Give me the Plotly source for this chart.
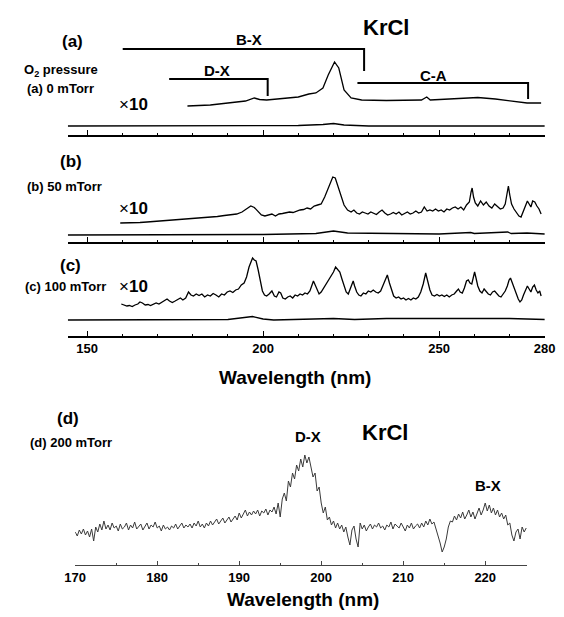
import plotly.graph_objects as go

# ---------------- data (intensity in arbitrary units) ----------------
# panel (a) 0 mTorr
a10_x = [178.5, 185, 190, 195, 197.5, 199, 201, 205, 210, 213, 215, 217, 218.5, 220.3, 221.5, 223, 225, 228, 235, 245, 246.5, 247.5, 255, 261, 266, 272, 275, 279]
a10_y = [29, 30, 32, 34, 37, 35.5, 35, 36, 38, 41, 42, 47, 60, 73, 67, 45, 37, 35, 34.5, 35, 38, 35, 36, 37.5, 36, 33, 32, 32]
a1_x = [144.5, 200, 210, 217, 220, 223, 230, 280]
a1_y = [9, 9, 9.5, 10.5, 11.5, 10, 9, 9]

# panel (b) 50 mTorr
b10_x = [159.4, 161, 163, 165, 167, 169, 171, 173, 175, 177, 179, 181, 183, 185, 187, 189, 191, 192.5, 194, 195.5, 196.5, 197.5, 198.5, 199.5,
         200.5, 201.5, 202.5, 203.5, 204.5, 205.5, 206.5, 207.5, 208.5, 209.5, 210.5, 211.5, 212.5, 213.5, 214.5, 215.5, 216.5, 217.5, 218.5,
         219.3, 219.8, 220.5, 221.3, 222, 223, 224, 225, 225.8, 226.6, 227.4, 228.2, 229, 229.8, 230.6, 231.4, 232.2, 233, 233.8, 234.6, 235.4,
         236.2, 237, 237.8, 238.6, 239.4, 240.2, 241, 241.8, 242.6, 243.4, 244.2, 245, 245.8, 246.6, 247.4, 248.2, 249, 249.8, 250.6, 251.4,
         252.2, 253, 253.8, 254.6, 255.4, 256.2, 257, 257.8, 258.6, 259.1, 259.4, 259.8, 260.3, 261, 261.8, 262.6, 263.4, 264.2, 265, 265.8,
         266.6, 267.4, 268.2, 268.8, 269.3, 269.7, 270.1, 270.6, 271.3, 272, 272.7, 273.3, 274, 274.6, 275.1, 275.6, 276.1, 276.6, 277.2,
         277.8, 278.4, 279]
b10_y = [19, 19, 19.5, 19.5, 20, 20.5, 21, 21.5, 22.5, 22.5, 23.5, 23.5, 24, 25, 25.5, 26.5, 27.5, 28, 30, 34, 36, 34.5, 31, 27,
         26, 27, 28, 26, 28, 28.5, 29, 30, 29.5, 31, 32, 32.5, 34, 33, 36, 37, 38, 45, 54,
         62, 65, 64, 55, 46, 37, 32, 30, 32, 29, 28, 30, 29, 28, 30, 29, 27.5, 30, 32, 29, 27,
         28, 29.5, 28, 30, 27, 28.5, 30, 28, 29, 31, 29, 30, 35, 31, 32, 31, 33, 31, 32, 30,
         33, 32, 34, 35, 33, 35, 32, 37, 40, 50, 54, 45, 39, 36, 41, 37, 40, 36, 34, 38,
         35, 33, 34, 38, 48, 56, 47, 38, 33, 29, 26, 25, 31, 37, 41, 38, 35, 41, 40,
         36, 33, 28]
b1_x = [144.5, 200, 215, 220, 224, 250, 259, 260, 269.5, 270.5, 275, 280]
b1_y = [7, 7.5, 8.5, 11, 9, 8, 9.5, 8.5, 10, 8.5, 9, 8]

# panel (c) 100 mTorr
c10_x = [159.7, 160.5, 161.3, 162, 162.8, 163.6, 164.4, 165, 165.7, 166.5, 167.3, 168, 168.8, 169.6, 170.4, 171.2, 172, 172.7, 173.4,
         174.2, 175, 175.8, 176.5, 177.2, 178, 178.8, 179.5, 180.2, 181, 181.8, 182.6, 183.4, 184.2, 185, 185.8, 186.6, 187.4, 188.2,
         189, 189.8, 190.6, 191.4, 192.2, 193, 193.8, 194.6, 195.3, 196, 196.6, 197, 197.5, 198, 198.6, 199.2, 199.8, 200.4, 201,
         201.7, 202.5, 203.2, 203.8, 204.5, 205, 205.6, 206.3, 207, 207.7, 208.4, 209.1, 209.8, 210.5, 211.2, 211.9, 212.6, 213.3,
         213.8, 214.3, 214.8, 215.3, 215.9, 216.5, 217.2, 217.9, 218.6, 219.3, 220, 220.6, 221.2, 221.8, 222.4, 223, 223.6, 224.2,
         224.8, 225.3, 225.6, 226, 226.6, 227.2, 227.8, 228.5, 229.2, 229.9, 230.6, 231.3, 232, 232.7, 233.4, 234, 234.6, 235.3,
         235.9, 236.5, 237.1, 237.8, 238.5, 239.2, 239.9, 240.6, 241.3, 242, 242.7, 243.4, 244.1, 244.8, 245.5, 246.2, 246.8, 247.4,
         248, 248.7, 249.4, 250.1, 250.8, 251.5, 252.2, 252.9, 253.6, 254.3, 255, 255.5, 256, 256.6, 257.2, 257.8, 258.3, 258.8,
         259.3, 259.7, 260.1, 260.5, 261, 261.6, 262.2, 262.8, 263.4, 264, 264.6, 265.2, 265.8, 266.4, 267, 267.6, 268.2, 268.8,
         269.4, 269.9, 270.3, 270.8, 271.4, 272, 272.5, 273, 273.5, 274, 274.6, 275.1, 275.6, 276.1, 276.6, 277.1, 277.6, 278.1,
         278.6, 279]
c10_y = [32, 31, 30, 30.5, 29.5, 31, 32, 34, 33, 31, 31.5, 30.5, 32, 33, 32, 34, 36, 37, 35,
         33.5, 35, 37, 38, 36, 38, 44, 41, 40, 42, 40.5, 42, 39, 41, 40, 42.5, 41, 39, 42,
         41, 44, 45, 43.5, 46, 47, 51, 53, 59, 69, 75, 78, 76, 75, 66, 55, 45, 41, 40,
         42, 45, 40, 39, 44, 43, 38, 37, 39, 40, 38, 41, 40, 42, 41, 43, 42, 45,
         50, 55, 51, 46, 42, 44, 48, 52, 56, 60, 64, 69, 66, 64, 57, 50, 44, 42,
         47, 53, 55, 50, 44, 41, 40, 43, 42, 45, 44, 46, 44, 43, 45, 50, 56, 61,
         53, 46, 40, 38, 39, 37, 38, 36, 37.5, 36, 38, 37, 39, 44, 52, 63, 54, 46,
         41, 40, 41.5, 40, 41, 39.5, 41, 39, 41, 42, 45, 47, 44, 43, 48, 55, 56, 53,
         52, 58, 64, 58, 50, 45, 43, 47, 44, 42, 41, 44, 45, 42, 40, 39, 42, 45,
         50, 56, 58, 53, 47, 42, 37, 34, 36, 41, 46, 50, 47, 44, 49, 51, 46, 43,
         45, 40]
c1_x = [144.5, 190, 197, 200, 203, 220, 226, 235, 246, 260, 270, 280]
c1_y = [16, 16.5, 19.5, 17, 16, 17.5, 16.5, 17.5, 17.5, 17.5, 17.5, 16.5]

# panel (d) 200 mTorr, sampled every 0.25 nm from 170 nm
d_start = 170.0
d_step = 0.25
d_y = [33, 29, 35, 31, 36, 30, 34, 28,
       36, 24, 38, 33, 41, 35, 44, 36,
       40, 35, 42, 37, 39, 34, 41, 36,
       38, 42, 35, 40, 37, 43, 36, 39,
       41, 35, 39, 42, 36, 40, 38, 43,
       37, 39, 34, 40, 36, 38, 35, 39,
       37, 41, 36, 39, 42, 37, 40, 38,
       41, 37, 42, 39, 44, 38, 41, 37,
       42, 39, 44, 40, 43, 46, 41, 44,
       47, 42, 45, 48, 43, 46, 49, 45,
       52, 47, 51, 55, 49, 53, 50, 54,
       51, 55, 49, 54, 52, 56, 50, 55,
       53, 58, 51, 62, 48, 66, 72, 64,
       84, 78, 92, 86, 100, 94, 106, 98,
       110, 102, 108, 96, 88, 92, 74, 78,
       62, 52, 58, 45, 48, 40, 44, 37,
       42, 36, 40, 33, 38, 28, 20, 35,
       39, 26, 18, 42, 36, 40, 34, 38,
       41, 36, 40, 38, 42, 37, 39, 35,
       40, 38, 43, 36, 41, 39, 37, 42,
       38, 34, 40, 37, 42, 36, 39, 41,
       37, 42, 38, 44, 40, 46, 41, 43,
       36, 30, 22, 13, 18, 26, 38, 44,
       43, 49, 45, 51, 47, 53, 46, 50,
       55, 48, 53, 46, 52, 57, 50, 55,
       62, 54, 60, 52, 57, 50, 55, 48,
       52, 46, 50, 40, 42, 30, 24, 33,
       36, 26, 38, 33, 37]
d_x = [d_start + i * d_step for i in range(len(d_y))]

top_ticks = [150, 200, 250, 280]
top_minor = [160, 170, 180, 190, 210, 220, 230, 240, 260, 270]
d_ticks = [170, 180, 190, 200, 210, 220]
d_minor = [175, 185, 195, 205, 215, 225]

# band brackets (panel a): label, left nm, right nm, label nm
bands = [("B-X", 160.1, 228.7, 195.9), ("D-X", 173.3, 201.3, 187.0), ("C-A", 226.8, 275.3, 248.3)]
band_line_y = [86, 56, 52]
band_drop_y = [64, 39, 36]
band_label_y = [96, 65, 60]

# ---------------- figure ----------------
W, H = 564, 617
FONT = "Liberation Sans, Arial, sans-serif"
fig = go.Figure()

def py(px):
    return 1 - px / H

line_black = dict(color="black", width=1.3)
fig.add_trace(go.Scatter(x=a10_x, y=a10_y, mode="lines", line=line_black, xaxis="x", yaxis="y"))
fig.add_trace(go.Scatter(x=a1_x, y=a1_y, mode="lines", line=line_black, xaxis="x", yaxis="y"))
fig.add_trace(go.Scatter(x=b10_x, y=b10_y, mode="lines", line=line_black, xaxis="x2", yaxis="y2"))
fig.add_trace(go.Scatter(x=b1_x, y=b1_y, mode="lines", line=line_black, xaxis="x2", yaxis="y2"))
fig.add_trace(go.Scatter(x=c10_x, y=c10_y, mode="lines", line=line_black, xaxis="x3", yaxis="y3"))
fig.add_trace(go.Scatter(x=c1_x, y=c1_y, mode="lines", line=line_black, xaxis="x3", yaxis="y3"))
fig.add_trace(go.Scatter(x=d_x, y=d_y, mode="lines", line=dict(color="#3a3a3a", width=1), xaxis="x4", yaxis="y4"))

top_dom = [59 / W, 555 / W]

def top_xaxis(anchor, labels):
    return dict(domain=top_dom, range=[144.5, 280.2], anchor=anchor, showline=True, linecolor="black", linewidth=1.5,
                showgrid=False, zeroline=False, tickmode="array", tickvals=top_ticks,
                ticktext=[f"<b>{t}</b>" for t in top_ticks], showticklabels=labels, ticklabeloverflow="allow",
                ticks="inside", ticklen=5, tickwidth=1.2, tickcolor="black",
                tickfont=dict(family=FONT, size=13, color="black", weight="bold"),
                minor=dict(tickmode="array", tickvals=top_minor, ticks="inside", ticklen=2.5, tickwidth=1, tickcolor="black"))

def hidden_y(dom, rng):
    return dict(domain=dom, range=rng, visible=False, fixedrange=True)

fig.update_layout(
    width=W, height=H, margin=dict(l=0, r=0, t=0, b=0),
    paper_bgcolor="white", plot_bgcolor="rgba(0,0,0,0)", showlegend=False,
    xaxis=top_xaxis("y", False),
    yaxis=hidden_y([py(135), 1], [0, 135]),
    xaxis2=top_xaxis("y2", False),
    yaxis2=hidden_y([py(242), py(142)], [0, 100]),
    xaxis3=top_xaxis("y3", True),
    yaxis3=hidden_y([py(336), py(250)], [0, 86]),
    xaxis4=dict(domain=[66.7 / W, 536 / W], range=[170, 225.1], anchor="y4", showline=True, linecolor="#444", linewidth=1.3,
                showgrid=False, zeroline=False, tickmode="array", tickvals=d_ticks,
                ticktext=[f"<b>{t}</b>" for t in d_ticks],
                ticks="inside", ticklen=4, tickwidth=1.2, tickcolor="#444",
                tickfont=dict(family=FONT, size=13, color="black", weight="bold"),
                minor=dict(tickmode="array", tickvals=d_minor, ticks="inside", ticklen=2, tickwidth=1, tickcolor="#444")),
    yaxis4=hidden_y([py(565), py(440)], [0, 125]),
)

# brackets
for (lab, x0, x1, xl), ly, dy, tly in zip(bands, band_line_y, band_drop_y, band_label_y):
    fig.add_shape(type="path", path=f"M {x0},{ly} L {x1},{ly} L {x1},{dy}", xref="x", yref="y",
                  line=dict(color="black", width=2))
    fig.add_annotation(x=xl, y=tly, xref="x", yref="y", text=f"<b>{lab}</b>", showarrow=False,
                       font=dict(family=FONT, size=15, color="black"))

def txt(text, x, y, size, xanchor="center"):
    fig.add_annotation(x=x / W, y=py(y), xref="paper", yref="paper", text=text, showarrow=False,
                       xanchor=xanchor, yanchor="middle", font=dict(family=FONT, size=size, color="black"))

txt("<b>KrCl</b>", 390, 27, 22)
txt("<b>(a)</b>", 64, 42, 17)
txt("<b>O<sub>2</sub> pressure</b>", 52, 71, 13)
txt("<b>(a) 0 mTorr</b>", 51, 88, 13)
txt("×<b>10</b>", 127, 104, 17)
txt("<b>(b)</b>", 62, 161, 17)
txt("<b>(b) 50 mTorr</b>", 56, 186, 13)
txt("×<b>10</b>", 127, 208, 17)
txt("<b>(c)</b>", 62, 265, 17)
txt("<b>(c) 100 mTorr</b>", 57, 287, 13)
txt("×<b>10</b>", 127, 287, 17)
txt("<b>Wavelength (nm)</b>", 295, 377, 19)

txt("<b>(d)</b>", 59, 418, 17)
txt("<b>(d) 200 mTorr</b>", 62, 442, 13)
txt("<b>D-X</b>", 309, 436, 15)
txt("<b>KrCl</b>", 388, 433, 22)
txt("<b>B-X</b>", 495, 485, 15)
txt("<b>Wavelength (nm)</b>", 303, 599, 19)

fig.write_html("out.html", config={"displayModeBar": False},
               post_script="document.body.style.margin='0';document.body.style.overflow='hidden';")
